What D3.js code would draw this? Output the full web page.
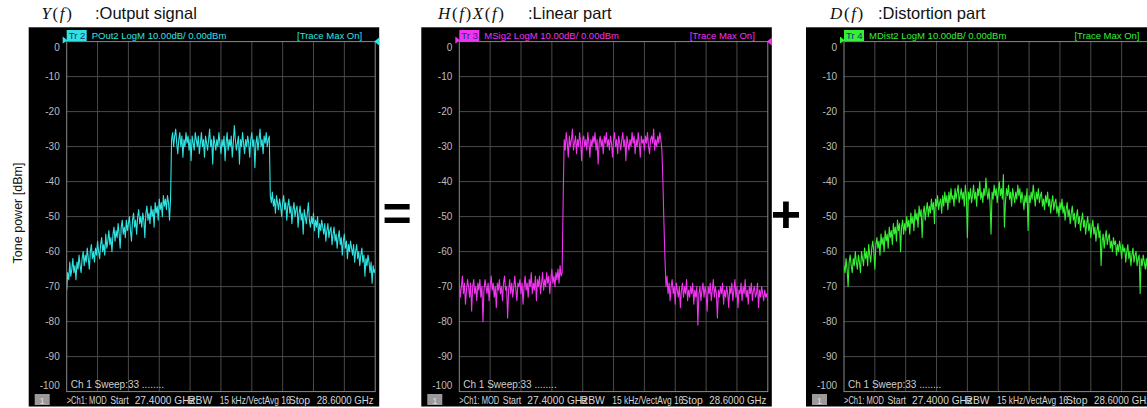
<!DOCTYPE html>
<html>
<head>
<meta charset="utf-8">
<script src="https://cdn.jsdelivr.net/npm/d3@7"></script>
<style>
  html, body { margin: 0; padding: 0; background: #fff; }
  svg { display: block; }
  text { font-family: "Liberation Sans", Arial, sans-serif; }
</style>
</head>
<body>
<svg id="chart" width="1147" height="408"></svg>
<script>
// Sweep settings (GHz) and level ticks (dBm)
const sweepStartGHz = 27.4;
const sweepStopGHz = 28.6;
const levelTicks = [0, -10, -20, -30, -40, -50, -60, -70, -80, -90, -100];

// Output signal Y(f), dBm per sweep point
const outputSignal = [
  -71,-66,-68,-63,-67,-65,-62,-66,-64,-68,-63,-65,-61,-64,-66,-62,-60,-64,-61,-63,
  -59,-62,-65,-60,-58,-62,-60,-63,-59,-61,-57,-60,-62,-58,-56,-60,-58,-61,-55,-59,
  -57,-54,-58,-56,-60,-55,-53,-57,-54,-56,-52,-55,-59,-53,-51,-55,-53,-56,-51,-54,
  -52,-50,-54,-57,-51,-49,-53,-51,-55,-50,-48,-52,-50,-53,-49,-51,-56,-49,-47,-51,
  -49,-52,-47,-50,-48,-53,-46,-49,-47,-51,-45,-48,-46,-50,-44,-47,-45,-48,-44,-46,
  -51,-45,-28,-26,-30,-27,-25,-29,-32,-28,-26,-30,-27,-33,-28,-30,-26,-29,-27,-31,
  -28,-34,-27,-29,-31,-26,-28,-30,-27,-32,-29,-26,-30,-28,-33,-27,-29,-31,-28,-25,
  -30,-28,-35,-27,-29,-31,-28,-30,-26,-29,-32,-28,-30,-27,-34,-29,-26,-31,-28,-30,
  -27,-33,-29,-24,-28,-31,-29,-27,-35,-28,-30,-26,-29,-32,-28,-30,-27,-29,-33,-28,
  -26,-30,-28,-36,-29,-27,-31,-28,-25,-30,-28,-32,-27,-29,-26,-30,-28,-27,-44,-46,
  -43,-47,-45,-49,-44,-46,-48,-45,-47,-50,-46,-44,-48,-46,-51,-47,-45,-49,-47,-52,
  -48,-46,-50,-48,-47,-53,-49,-47,-51,-49,-55,-48,-50,-52,-49,-46,-51,-53,-50,-52,
  -49,-54,-51,-53,-50,-56,-52,-54,-51,-53,-55,-52,-57,-54,-52,-56,-54,-53,-58,-55,
  -53,-57,-55,-59,-56,-54,-58,-56,-61,-57,-55,-59,-57,-62,-58,-60,-57,-59,-61,-58,
  -63,-60,-58,-62,-60,-64,-61,-59,-63,-61,-67,-62,-64,-61,-63,-66,-63,-69,-64,-66,
  -65
];

// Linear part H(f)X(f), dBm per sweep point
const linearPart = [
  -69,-73,-70,-67,-72,-69,-75,-71,-68,-70,-73,-69,-77,-70,-68,-72,-70,-74,-69,-71,
  -68,-73,-70,-80,-71,-68,-70,-72,-69,-74,-70,-67,-71,-69,-73,-70,-76,-69,-71,-68,
  -72,-70,-74,-69,-67,-71,-70,-79,-71,-68,-72,-69,-73,-70,-67,-71,-74,-69,-70,-68,
  -72,-69,-75,-70,-67,-71,-69,-73,-68,-70,-66,-72,-69,-71,-67,-74,-68,-70,-67,-72,
  -69,-66,-71,-68,-70,-66,-69,-67,-72,-68,-65,-69,-67,-70,-66,-68,-65,-69,-64,-67,
  -66,-45,-28,-31,-26,-29,-33,-27,-30,-28,-25,-31,-29,-27,-32,-28,-30,-26,-29,-34,
  -28,-27,-30,-28,-31,-26,-29,-33,-28,-30,-27,-29,-26,-31,-28,-35,-29,-27,-30,-28,
  -32,-27,-29,-26,-30,-28,-31,-27,-29,-33,-28,-26,-30,-28,-32,-27,-29,-31,-28,-26,
  -30,-28,-34,-27,-29,-31,-28,-30,-26,-29,-27,-32,-28,-30,-26,-29,-33,-27,-29,-28,
  -31,-27,-29,-26,-30,-32,-28,-27,-29,-25,-31,-28,-30,-27,-29,-26,-28,-31,-40,-52,
  -62,-70,-67,-72,-69,-74,-70,-68,-72,-70,-75,-69,-71,-73,-70,-76,-71,-69,-73,-70,
  -72,-68,-74,-71,-73,-70,-72,-69,-75,-71,-73,-70,-81,-72,-70,-74,-71,-69,-73,-70,
  -72,-77,-70,-72,-69,-74,-71,-68,-73,-70,-72,-79,-71,-73,-70,-72,-69,-75,-71,-73,
  -70,-72,-76,-70,-72,-69,-74,-71,-68,-73,-70,-76,-71,-72,-69,-74,-70,-72,-68,-73,
  -71,-75,-70,-72,-69,-74,-71,-70,-73,-72,-69,-76,-71,-73,-70,-72,-74,-71,-73,-72,
  -74
];

// Distortion part D(f), dBm per sweep point
const distortionPart = [
  -64,-66,-62,-65,-70,-63,-61,-64,-66,-62,-64,-60,-63,-65,-61,-63,-66,-60,-62,-64,
  -59,-62,-60,-64,-58,-61,-63,-59,-57,-60,-65,-58,-56,-59,-57,-61,-55,-58,-56,-60,
  -54,-57,-55,-59,-53,-56,-54,-58,-52,-55,-53,-57,-51,-54,-52,-60,-53,-51,-55,-52,
  -54,-50,-53,-51,-55,-49,-52,-50,-54,-48,-51,-49,-53,-47,-50,-48,-56,-49,-47,-51,
  -48,-46,-50,-47,-49,-45,-48,-46,-52,-45,-47,-44,-48,-46,-45,-49,-44,-47,-43,-46,
  -44,-48,-43,-46,-42,-45,-44,-47,-42,-45,-43,-41,-46,-44,-42,-45,-43,-47,-41,-44,
  -56,-43,-45,-42,-46,-44,-41,-45,-43,-47,-42,-44,-40,-45,-43,-46,-42,-44,-39,-43,
  -45,-42,-46,-55,-43,-45,-41,-44,-42,-46,-43,-40,-44,-42,-45,-38,-53,-46,-42,-44,
  -41,-45,-43,-47,-42,-44,-46,-43,-45,-41,-44,-42,-46,-43,-45,-48,-44,-46,-42,-54,
  -44,-46,-43,-45,-41,-44,-47,-43,-45,-42,-46,-44,-43,-47,-45,-48,-44,-46,-43,-47,
  -45,-49,-46,-44,-48,-46,-45,-49,-47,-50,-46,-48,-45,-49,-47,-51,-48,-46,-50,-48,
  -52,-49,-47,-51,-49,-53,-50,-48,-52,-50,-54,-51,-49,-53,-51,-55,-52,-50,-54,-52,
  -56,-53,-51,-55,-53,-57,-54,-52,-56,-54,-64,-57,-55,-59,-56,-54,-58,-56,-55,-59,
  -57,-60,-56,-58,-57,-61,-58,-60,-57,-59,-62,-58,-60,-59,-63,-60,-58,-62,-60,-64,
  -61,-59,-63,-61,-60,-64,-62,-61,-72,-62,-64,-61,-63,-65,-62,-65,-63,-64,-62,-65,
  -64
];

// Panel captions and trace header texts
const captionMath = [
  [["Y", true], ["(", false], ["f", true], [")", false]],
  [["H", true], ["(", false], ["f", true], [")", false], ["X", true], ["(", false], ["f", true], [")", false]],
  [["D", true], ["(", false], ["f", true], [")", false]]
];
const captionText = [":Output signal", ":Linear part", ":Distortion part"];
const traceBadges = ["Tr 2", "Tr 3", "Tr 4"];
const traceHeaders = ["POut2 LogM 10.00dB/  0.00dBm", "MSig2 LogM 10.00dB/  0.00dBm", "MDist2 LogM 10.00dB/  0.00dBm"];
const traceSeries = [outputSignal, linearPart, distortionPart];

const traceColors = ["#2fe3e3", "#f034f0", "#35f035"];
const plotLefts = [66.7, 459.3, 844];
const captionX = [[41.5, 95], [438, 528], [830, 878]];

const svg = d3.select("#chart");
const W = 308.5, TOP = 41.6, BOTTOM = 391.6;
const y = d3.scaleLinear().domain([0, -100]).range([TOP, BOTTOM]);

// Y axis title
svg.append("text")
  .attr("transform", "translate(22,213) rotate(-90)")
  .attr("text-anchor", "middle")
  .style("font-size", "12.5px")
  .attr("fill", "#111")
  .text("Tone power [dBm]");

traceSeries.forEach((series, p) => {
  const L = plotLefts[p], R = L + W;
  const color = traceColors[p];
  const n = series.length;
  const x = d3.scaleLinear().domain([sweepStartGHz, sweepStopGHz]).range([L, R]);
  const freqAt = i => sweepStartGHz + i * (sweepStopGHz - sweepStartGHz) / (n - 1);
  const g = svg.append("g");

  // caption above the screen
  const cap = g.append("text")
    .attr("x", captionX[p][0]).attr("y", 19)
    .style("font-family", "'Liberation Serif', 'DejaVu Serif', serif")
    .style("font-size", "17px")
    .style("letter-spacing", "1.6px")
    .attr("fill", "#111");
  captionMath[p].forEach(([t, it]) => {
    cap.append("tspan").style("font-style", it ? "italic" : "normal").text(t);
  });
  g.append("text")
    .attr("x", captionX[p][1]).attr("y", 19)
    .style("font-size", "16.5px")
    .attr("fill", "#111")
    .text(captionText[p]);

  // instrument screen
  g.append("rect")
    .attr("x", L - 38).attr("y", 27.3)
    .attr("width", W + 42).attr("height", 379.2)
    .attr("fill", "#000");

  // grid
  const freqTicks = d3.range(11).map(k => sweepStartGHz + k * (sweepStopGHz - sweepStartGHz) / 10);
  g.append("g").selectAll("line").data(freqTicks.slice(1, -1)).join("line")
    .attr("x1", d => x(d)).attr("x2", d => x(d))
    .attr("y1", TOP).attr("y2", BOTTOM)
    .attr("stroke", "#4a4a4a").attr("stroke-width", 1);
  g.append("g").selectAll("line").data(levelTicks.slice(1, -1)).join("line")
    .attr("x1", L).attr("x2", R)
    .attr("y1", d => y(d)).attr("y2", d => y(d))
    .attr("stroke", "#4a4a4a").attr("stroke-width", 1);
  g.append("rect")
    .attr("x", L).attr("y", TOP).attr("width", W).attr("height", BOTTOM - TOP)
    .attr("fill", "none").attr("stroke", "#8a8a8a").attr("stroke-width", 1);

  // level axis
  const ag = g.append("g").attr("transform", `translate(${L},0)`)
    .call(d3.axisLeft(y).tickValues(levelTicks).tickSize(0).tickPadding(7).tickFormat(d => String(d)));
  ag.select(".domain").remove();
  ag.selectAll("text")
    .attr("fill", "#bdbdbd")
    .style("font-family", "'Liberation Sans', Arial, sans-serif")
    .style("font-size", "10px")
    .attr("dy", d => d === 0 ? "0.85em" : d === -100 ? "-0.35em" : "0.32em");

  // trace
  g.append("clipPath").attr("id", "clip" + p)
    .append("rect").attr("x", L).attr("y", TOP).attr("width", W).attr("height", BOTTOM - TOP);
  const line = d3.line().x((d, i) => x(freqAt(i))).y(d => y(d));
  g.append("path")
    .datum(series)
    .attr("clip-path", `url(#clip${p})`)
    .attr("d", line)
    .attr("fill", "none")
    .attr("stroke", color)
    .attr("stroke-width", 1.1)
    .attr("stroke-linejoin", "round");

  // reference markers
  g.append("path")
    .attr("d", `M${L - 4},${TOP - 5} L${L + 1},${TOP - 1} L${L - 4},${TOP + 2} Z`)
    .attr("fill", color);
  g.append("path")
    .attr("d", `M${R + 4},${TOP - 4} L${R - 1},${TOP} L${R + 4},${TOP + 4} Z`)
    .attr("fill", color);

  // trace header
  g.append("rect").attr("x", L).attr("y", 30).attr("width", 20).attr("height", 11).attr("fill", color);
  g.append("text").attr("x", L + 2).attr("y", 39.2)
    .style("font-size", "9.5px").attr("fill", "#1c2c78").text(traceBadges[p]);
  g.append("text").attr("x", L + 25).attr("y", 39.2)
    .style("font-size", "9.5px").attr("fill", color).text(traceHeaders[p]);
  g.append("text").attr("x", R - 13).attr("y", 39.2).attr("text-anchor", "end")
    .style("font-size", "9.5px").attr("fill", color).text("[Trace Max On]");

  // sweep status
  g.append("text").attr("x", L + 4).attr("y", 388)
    .style("font-size", "10px").attr("fill", "#cfcfcf").text("Ch 1 Sweep:33 ........");

  // footer bar: [offset from plot left, text, drawn width]
  g.append("rect").attr("x", L - 32).attr("y", 394).attr("width", 15).attr("height", 11).attr("fill", "#9a9a9a");
  g.append("text").attr("x", L - 24.5).attr("y", 403.5).attr("text-anchor", "middle")
    .style("font-size", "9.5px").attr("fill", "#dcdcdc").text("1");
  const footer = [[0, ">Ch1: MOD", 40], [43.5, "Start", 18.5], [68, "27.4000 GHz", 60],
                  [121.5, "RBW", 24], [153, "15 kHz/VectAvg 16", 71], [222, "Stop", 21.5],
                  [250, "28.6000 GHz", 57]];
  g.append("g").selectAll("text").data(footer).join("text")
    .attr("x", d => L + d[0]).attr("y", 404)
    .attr("textLength", d => d[2]).attr("lengthAdjust", "spacingAndGlyphs")
    .style("font-size", "10.5px").attr("fill", "#d6d6d6")
    .text(d => d[1]);
});

// operators between panels
svg.append("text").attr("x", 397).attr("y", 231).attr("text-anchor", "middle")
  .style("font-size", "50px").style("font-weight", "bold").attr("fill", "#000").text("=");
svg.append("text").attr("x", 786).attr("y", 232).attr("text-anchor", "middle")
  .style("font-size", "52px").style("font-weight", "bold").attr("fill", "#000").text("+");
</script>
</body>
</html>
